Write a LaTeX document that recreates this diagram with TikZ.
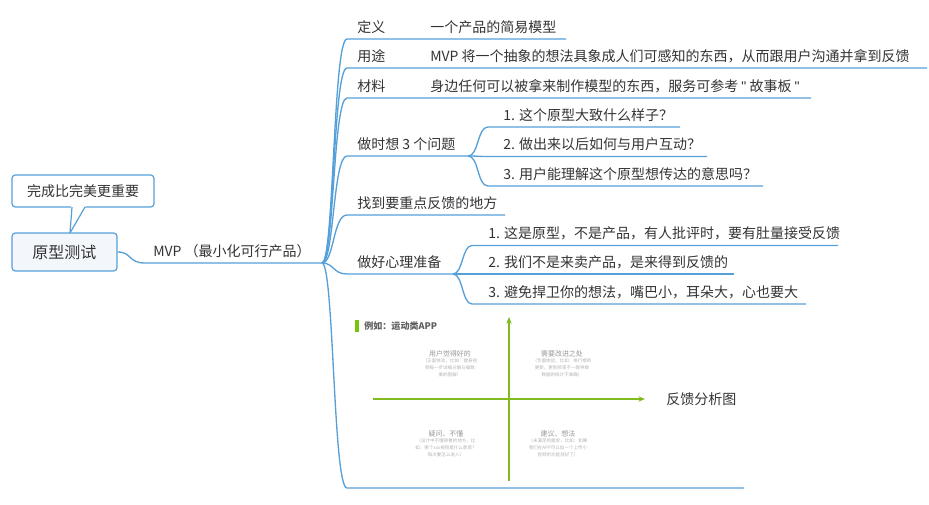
\documentclass[tikz,border=0pt]{standalone}
\usepackage{fontspec}
\setmainfont{Noto Sans CJK SC}
\newfontfamily\qfont{Liberation Sans}
\usetikzlibrary{arrows.meta}
\definecolor{lineblue}{RGB}{86,160,218}
\definecolor{txt}{RGB}{51,51,51}
\definecolor{axgreen}{RGB}{128,186,30}
\definecolor{bargreen}{RGB}{120,196,10}
\definecolor{rootfill}{RGB}{243,247,252}
\definecolor{qhead}{RGB}{150,150,150}
\definecolor{qsub}{RGB}{178,178,178}
\definecolor{imgtitle}{RGB}{95,95,95}
\newcommand\sq{{\qfont\symbol{34}}}
\begin{document}
\begin{tikzpicture}[x=0.75pt,y=-0.75pt,
  conn/.style={draw=lineblue,line width=1pt},
  lbl/.style={anchor=base west,inner sep=0pt,text=txt,font=\fontsize{10.5pt}{12pt}\selectfont},
  rootbox/.style={draw=lineblue,line width=0.9pt,fill=rootfill,rounded corners=2.5pt,
    minimum width=78.75pt,minimum height=28.5pt,inner sep=0pt,text=txt,font=\fontsize{12pt}{14pt}\selectfont},
  callbox/.style={draw=lineblue,line width=0.9pt,fill=white,rounded corners=2.5pt,
    minimum width=106.5pt,minimum height=24pt,inner sep=0pt,text=txt,font=\fontsize{10.5pt}{12pt}\selectfont},
  axis/.style={draw=axgreen,line width=1.1pt,-{Stealth[length=5pt,width=4pt]}},
  qh/.style={text=qhead,inner sep=0pt,font=\fontsize{5.2pt}{6pt}\selectfont},
  qs/.style={text=qsub,inner sep=0pt,align=center,font=\fontsize{3.4pt}{5.25pt}\selectfont}]
\useasboundingbox (0,0) rectangle (929,504);

% callout and root
\node[callbox] (call) at (83,191) {完成比完美更重要};
\coordinate (tailA) at (72,207);
\coordinate (tailB) at (85,207);
\coordinate (tailT) at (70,233);
\fill[white] (71.2,205.6) -- (tailT) -- (86,205.6) -- cycle;
\draw[draw=lineblue,line width=0.9pt] (tailA) -- (tailT) -- (tailB);
\node[rootbox] (root) at (64.5,252) {原型测试};

% main connector
\coordinate (hub) at (322,263);
\coordinate (rootbend) at (145,263);
\draw[conn] (root.east) .. controls (132,252) and (128,263) .. (rootbend) -- (hub);
\node[lbl] (mvp) at (153,256) {MVP （最小化可行产品）};

% first-level branches
\foreach \y/\e/\n in {39/566/b1,68/927/b2,98/811/b3,156/468/b4,215/505/b5,274/453/b6,488/744/b7}{
  \coordinate (\n s) at (347,\y);
  \coordinate (\n e) at (\e,\y);
  \draw[conn] (hub) .. controls (334,263) and (333,\y) .. (\n s) -- (\n e);
}
\node[lbl] (t1) at (357,32) {定义};
\node[lbl] (v1) at (430,32) {一个产品的简易模型};
\node[lbl] (t2) at (357,61) {用途};
\node[lbl] (v2) at (430,61) {MVP 将一个抽象的想法具象成人们可感知的东西，从而跟用户沟通并拿到反馈};
\node[lbl] (t3) at (357,91) {材料};
\node[lbl] (v3) at (430,91) {身边任何可以被拿来制作模型的东西，服务可参考 \sq\ 故事板 \sq};
\node[lbl] (t4) at (357,149) {做时想 3 个问题};
\node[lbl] (t5) at (357,208) {找到要重点反馈的地方};
\node[lbl] (t6) at (357,267) {做好心理准备};

% sub-branches of b4
\foreach \y/\e/\n in {127/680/c1,156.5/707/c2,186/763/c3}{
  \coordinate (\n s) at (488,\y);
  \coordinate (\n e) at (\e,\y);
  \draw[conn] (b4e) .. controls (479,156) and (477,\y) .. (\n s) -- (\n e);
}
\node[lbl] (s1) at (503,120) {1. 这个原型大致什么样子？};
\node[lbl] (s2) at (503,149.5) {2. 做出来以后如何与用户互动？};
\node[lbl] (s3) at (503,179) {3. 用户能理解这个原型想传达的意思吗？};

% sub-branches of b6
\foreach \y/\e/\n in {245.5/838/d1,274/734/d2,304/806/d3}{
  \coordinate (\n s) at (472,\y);
  \coordinate (\n e) at (\e,\y);
  \draw[conn] (b6e) .. controls (463,274) and (462,\y) .. (\n s) -- (\n e);
}
\node[lbl] (p1) at (488,238.5) {1. 这是原型，不是产品，有人批评时，要有肚量接受反馈};
\node[lbl] (p2) at (488,267) {2. 我们不是来卖产品，是来得到反馈的};
\node[lbl] (p3) at (488,297) {3. 避免捍卫你的想法，嘴巴小，耳朵大，心也要大};

% picture: feedback chart
\fill[bargreen] (355,320) rectangle (358.5,332);
\node[anchor=west,inner sep=0pt,text=imgtitle,font=\bfseries\fontsize{6.8pt}{8pt}\selectfont] (ex) at (364,326) {例如：运动类APP};
\coordinate (vy0) at (509,481);
\coordinate (vy1) at (509,317);
\coordinate (hx0) at (373,399);
\coordinate (hx1) at (645,399);
\draw[axis] (vy0) -- (vy1);
\draw[axis] (hx0) -- (hx1);
\node[anchor=west,inner sep=0pt,text=txt,font=\fontsize{10.5pt}{12pt}\selectfont] (fig) at (666,399) {反馈分析图};

\node[qh] (q1) at (450,354) {用户觉得好的};
\node[qs,anchor=north] (q1s) at (450,358) {（正面体验，比如：健身视\\频每一步详细分解与细致\\美的图解）};
\node[qh] (q2) at (562,354) {需要改进之处};
\node[qs,anchor=north] (q2s) at (562,358) {（负面体验，比如：排行榜的\\更新，更新频率不一致导致\\数据的统计不准确）};
\node[qh] (q3) at (446,434) {疑问、不懂};
\node[qs,anchor=north] (q3s) at (446,438) {（设计中不懂得看的地方，比\\如：哪个xxx按钮是什么意思？\\每次要怎么进入）};
\node[qh] (q4) at (558,434) {建议、想法};
\node[qs,anchor=north] (q4s) at (558,438) {（未满足的需求，比如：如果\\我们在APP可以加一个上传小\\视频的功能就好了）};
\end{tikzpicture}
\end{document}
